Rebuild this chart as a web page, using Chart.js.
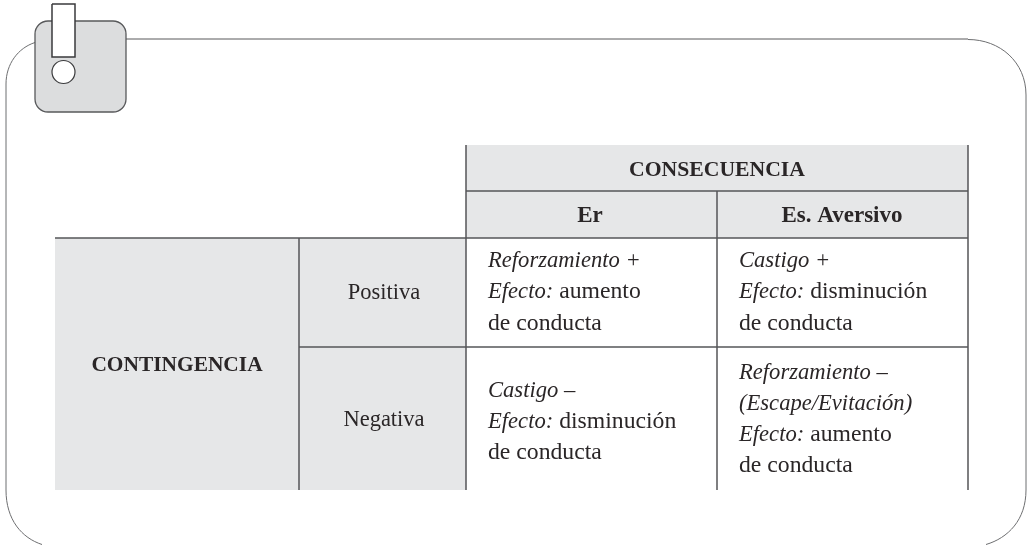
<!DOCTYPE html>
<html><head><meta charset="utf-8">
<style>html,body{margin:0;padding:0;background:#fff;overflow:hidden}canvas{display:block}</style>
<script src="https://cdn.jsdelivr.net/npm/chart.js@4"></script></head>
<body><canvas id="c" width="1027" height="545"></canvas>
<script>
// shaded table regions [x0,y0,x1,y1]
const shadedCells = [[466,145,968,238],[55,238,466,490]];
// table rules [x0,y0,x1,y1]
const tableRules = [
 [466,145,466,490],[717,191,717,490],[968,145,968,490],[299,238,299,490],
 [466,191,968,191],[55,238,968,238],[299,347,968,347]
];
const frameTop = [[126,39],[968,39]];
const iconBar = [[52,4],[75,4],[75,57],[52,57]];
const iconDot = [{x:63.5,y:72}];
// centred labels [text,x,baseline,bold,size]
const headerLabels = [
 ["CONSECUENCIA",717,175.5,true,21.7],["Er",590,222,true,23],["Es. Aversivo",842,222,true,23],
 ["CONTINGENCIA",177,371,true,21.4],["Positiva",384,299,false,22.5],["Negativa",384,426,false,22.5]
];
const efecto = "Efecto:";
// cell lines: [x, baseline, italic part, roman part]
const cellLines = [
 [488,267,"Reforzamiento +",""],[488,298,efecto," aumento"],[488,329.5,"","de conducta"],
 [739,267,"Castigo +",""],[739,298,efecto," disminución"],[739,329.5,"","de conducta"],
 [488,397,"Castigo –",""],[488,428,efecto," disminución"],[488,459,"","de conducta"],
 [739,378.5,"Reforzamiento –",""],[739,409.5,"(Escape/Evitación)",""],[739,440.5,efecto," aumento"],[739,471.5,"","de conducta"]
];
const INK="#2a2627", RULE="#555658", GREY="#e6e7e8";
const fontFam='"Liberation Serif"';
const decor={id:'decor',
 beforeDatasetsDraw(ch){
  const c=ch.ctx,X=ch.scales.x,Y=ch.scales.y,px=v=>X.getPixelForValue(v),py=v=>Y.getPixelForValue(v);
  c.save();
  // frame
  c.strokeStyle="#6d6e70";c.lineWidth=1;c.beginPath();
  c.moveTo(px(35),py(42.5));c.bezierCurveTo(px(18),py(48),px(6),py(64),px(6),py(84));
  c.lineTo(px(6),py(490));c.bezierCurveTo(px(6),py(520),px(22),py(538),px(42),py(544.5));c.stroke();
  c.beginPath();c.moveTo(px(968),py(39.5));c.bezierCurveTo(px(1000),py(39.5),px(1026),py(62),px(1026),py(95));
  c.lineTo(px(1026),py(490));c.bezierCurveTo(px(1026),py(520),px(1008),py(538),px(986),py(544.5));c.stroke();
  // tab
  c.fillStyle="#dcddde";c.strokeStyle="#58595b";c.lineWidth=1.3;c.beginPath();
  c.roundRect(px(35),py(21),px(126)-px(35),py(112)-py(21),13);c.fill();c.stroke();
  c.restore();
 },
 afterDatasetsDraw(ch){
  const c=ch.ctx,X=ch.scales.x,Y=ch.scales.y,px=v=>X.getPixelForValue(v),py=v=>Y.getPixelForValue(v);
  c.save();c.fillStyle=INK;c.textBaseline="alphabetic";
  headerLabels.forEach(([t,x,y,b,s])=>{
   c.font=(b?"bold ":"")+s+"px "+fontFam;c.textAlign="center";c.fillText(t,px(x),py(y));
  });
  c.textAlign="left";
  cellLines.forEach(([x,y,it,ro])=>{
   let cx=px(x);
   if(it){c.font="italic 22.6px "+fontFam;c.fillText(it,cx,py(y));cx+=c.measureText(it).width;}
   if(ro){c.font="23.7px "+fontFam;c.fillText(ro,cx,py(y));}
  });
  c.restore();
 }
};
const toPts=a=>a.map(([x,y])=>({x,y}));
const datasets=[];
shadedCells.forEach(([a,b,d,e])=>datasets.push({data:[{x:a,y:b},{x:d,y:b},{x:d,y:e},{x:a,y:e}],showLine:true,fill:'shape',backgroundColor:GREY,borderWidth:0,pointRadius:0,order:5}));
tableRules.forEach(([a,b,d,e])=>datasets.push({data:[{x:a,y:b},{x:d,y:e}],showLine:true,fill:false,borderColor:RULE,borderWidth:1.5,pointRadius:0,order:3}));
datasets.push({data:toPts(frameTop),showLine:true,fill:false,borderColor:"#58595b",borderWidth:1,pointRadius:0,order:3});
datasets.push({data:toPts(iconBar.concat([iconBar[0]])),showLine:true,fill:'shape',backgroundColor:"#fff",borderColor:"#3a3a3c",borderWidth:1.5,pointRadius:0,order:2});
datasets.push({data:iconDot,pointRadius:11.5,pointBackgroundColor:"#fff",pointBorderColor:"#3a3a3c",pointBorderWidth:1.2,order:1});
new Chart(document.getElementById('c'),{
 type:'scatter',
 data:{datasets},
 options:{responsive:false,animation:false,layout:{padding:0,autoPadding:false},
  plugins:{legend:{display:false},tooltip:{enabled:false},title:{display:false}},
  scales:{x:{type:'linear',min:0,max:1027,display:false},y:{type:'linear',min:0,max:545,reverse:true,display:false}}},
 plugins:[decor]
});
</script></body></html>
